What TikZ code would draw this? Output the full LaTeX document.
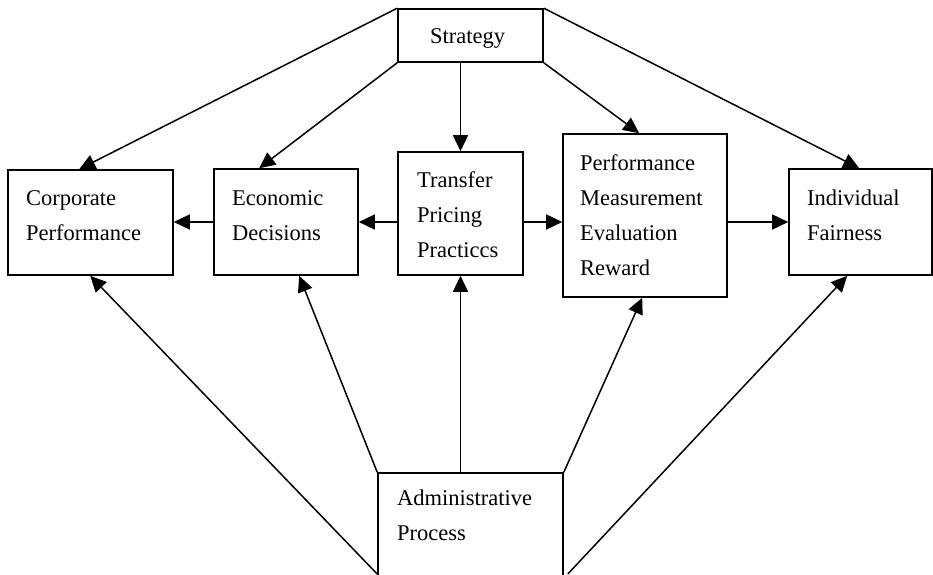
\documentclass[tikz,border=0pt]{standalone}
\usepackage{fontspec}
\setmainfont{Liberation Serif}
\usetikzlibrary{arrows.meta}
\begin{document}
\begin{tikzpicture}[x=1pt,y=-1pt,
  box/.style={draw,line width=1.6pt,rectangle,inner sep=0pt},
  txt/.style={anchor=north west,inner sep=0pt,align=left,font=\fontsize{22.5}{35}\selectfont},
  arr/.style={line width=1.5pt,-{Triangle[length=16pt,width=15pt]}},
  ln/.style={line width=1.5pt}]
\useasboundingbox (0,0) rectangle (933,574);
\clip (0,0) rectangle (933,574);
% boxes
\node[box,minimum width=145,minimum height=53] (st) at (470.5,35.5) {};
\node[box,minimum width=165,minimum height=105] (cp) at (90.5,222.5) {};
\node[box,minimum width=144,minimum height=106] (ed) at (286,222) {};
\node[box,minimum width=125,minimum height=123] (tp) at (460.5,213.5) {};
\node[box,minimum width=164,minimum height=163] (pm) at (645,215.5) {};
\node[box,minimum width=143,minimum height=106] (if) at (860.5,222) {};
\node[box,minimum width=185,minimum height=140] (ap) at (470.5,543) {};
\coordinate (bot) at (0,574);
% texts
\node[txt] (stt) at (430,43-24.5) {\strut Strategy};
\node[txt] (cpt) at (26,205-24.5) {\strut Corporate\\Performance};
\node[txt] (edt) at (232,205-24.5) {\strut Economic\\Decisions};
\node[txt] (tpt) at (417,187-24.5) {\strut Transfer\\Pricing\\Practiccs};
\node[txt] (pmt) at (580,170-24.5) {\strut Performance\\Measurement\\Evaluation\\Reward};
\node[txt] (ift) at (807,205-24.5) {\strut Individual\\Fairness};
\node[txt] (apt) at (397,505-24.5) {\strut Administrative\\Process};
% strategy connectors
\draw[arr] (st.north west) -- ([xshift=72pt]cp.north west);
\draw[arr] (st.south west) -- ([xshift=46pt]ed.north west);
\draw[arr] (tp.north |- st.south) -- (tp.north);
\draw[arr] (st.south east) -- ([xshift=77pt]pm.north west);
\draw[arr] (st.north east) -- ([xshift=71pt]if.north west);
% horizontal connectors
\draw[arr] (ed.west) -- (ed.west -| cp.east);
\draw[arr] (ed.east -| tp.west) -- (ed.east);
\draw[arr] (ed.east -| tp.east) -- (ed.east -| pm.west);
\draw[arr] (ed.east -| pm.east) -- (ed.east -| if.west);
% administrative connectors
\draw[arr] (ap.north west) -- ([xshift=86pt]ed.south west);
\draw[arr] (tp.south |- ap.north) -- (tp.south);
\draw[arr] (ap.north east) -- ([xshift=80pt]pm.south west);
\draw[arr] (ap.west |- bot) -- ([xshift=83pt]cp.south west);
\draw[arr] ([xshift=4pt]ap.east |- bot) -- ([xshift=59pt]if.south west);
\end{tikzpicture}
\end{document}
